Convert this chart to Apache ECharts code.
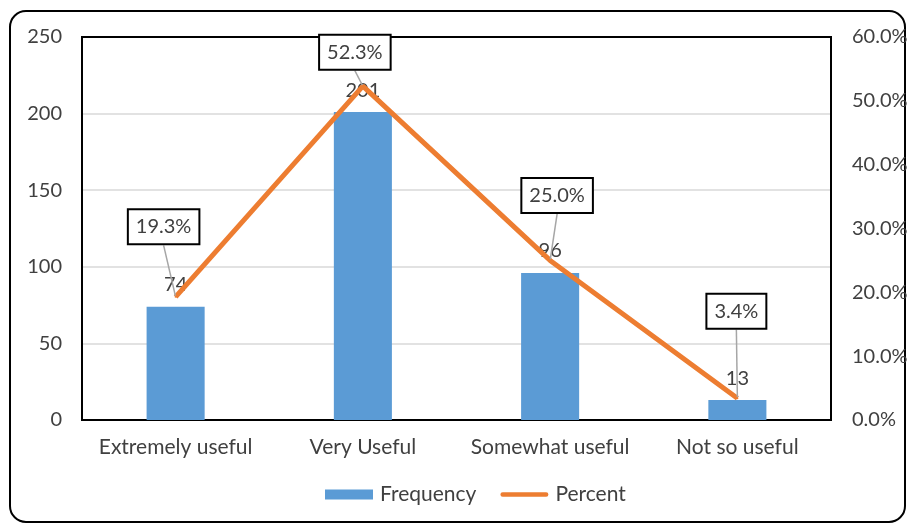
<!DOCTYPE html>
<html>
<head>
<meta charset="utf-8">
<script src="https://cdn.jsdelivr.net/npm/echarts@6/dist/echarts.min.js"></script>
<style>
  html, body { margin: 0; padding: 0; background: #fff; }
  #chart { width: 912px; height: 524px; }
</style>
</head>
<body>
<div id="chart"></div>
<script>
// Usefulness ratings: counts and share of respondents
const categories = ['Extremely useful', 'Very Useful', 'Somewhat useful', 'Not so useful'];
const frequency = [74, 201, 96, 13];
const percent = [19.3, 52.3, 25.0, 3.4];
const leftTicks = { min: 0, max: 250, interval: 50 };
const rightTicks = { min: 0, max: 60, interval: 10 };

// Where each boxed percent label sits relative to its point
const percentLabelShift = [[-12, -70], [-8, -34], [7, -65], [-1, -87]];

const FONT = 'Lato, "Open Sans", sans-serif';
const TEXT = '#404040';
const SIZE = 20;

const chart = echarts.init(document.getElementById('chart'), null, { renderer: 'canvas' });

chart.setOption({
  animation: false,
  backgroundColor: '#fff',
  textStyle: { fontFamily: FONT },
  graphic: [{
    type: 'rect',
    shape: { x: 10, y: 11, width: 895, height: 511, r: 16 },
    style: { fill: 'none', stroke: '#000', lineWidth: 2 },
    z: 0
  }],
  grid: {
    left: 82, right: 81, top: 37, bottom: 104,
    show: true, borderColor: '#000', borderWidth: 2, backgroundColor: 'transparent'
  },
  legend: {
    bottom: 14,
    left: 320,
    itemGap: 24,
    itemWidth: 48,
    itemHeight: 10,
    textStyle: { fontFamily: FONT, fontSize: 21, color: TEXT, padding: [0, 0, 0, 2] },
    data: [
      { name: 'Frequency', icon: 'rect' },
      { name: 'Percent', icon: 'path://M2.5,0 L50.5,0 A2.5,2.5 0 0 1 50.5,5 L2.5,5 A2.5,2.5 0 0 1 2.5,0 Z' }
    ]
  },
  xAxis: [{
    type: 'category',
    data: categories,
    axisLine: { lineStyle: { color: '#000', width: 2 } },
    axisTick: { show: false },
    axisLabel: { interval: 0, fontFamily: FONT, fontSize: 21, color: TEXT, margin: 17 }
  }, {
    type: 'category',
    position: 'top',
    data: categories,
    axisLine: { lineStyle: { color: '#000', width: 2 } },
    axisTick: { show: false },
    axisLabel: { show: false }
  }],
  yAxis: [{
    type: 'value',
    min: leftTicks.min, max: leftTicks.max, interval: leftTicks.interval,
    axisLine: { show: true, lineStyle: { color: '#000', width: 2 } },
    axisTick: { show: false },
    splitLine: { showMaxLine: false, lineStyle: { color: '#d9d9d9', width: 1.5 } },
    axisLabel: { fontFamily: FONT, fontSize: SIZE, color: TEXT, margin: 20 }
  }, {
    type: 'value',
    min: rightTicks.min, max: rightTicks.max, interval: rightTicks.interval,
    axisLine: { show: true, lineStyle: { color: '#000', width: 2 } },
    axisTick: { show: false },
    splitLine: { show: false },
    axisLabel: {
      fontFamily: FONT, fontSize: SIZE, color: TEXT, margin: 21,
      formatter: v => v.toFixed(1) + '%'
    }
  }],
  series: [{
    name: 'Frequency',
    type: 'bar',
    data: frequency,
    barWidth: '31%',
    itemStyle: { color: '#5B9BD5' },
    label: {
      show: true, position: 'top', distance: 12,
      fontFamily: FONT, fontSize: SIZE, color: TEXT
    },
    z: 2
  }, {
    name: 'Percent',
    type: 'line',
    yAxisIndex: 1,
    data: percent,
    symbol: 'circle',
    symbolSize: 2,
    itemStyle: { color: '#ED7D31' },
    lineStyle: { color: '#ED7D31', width: 5 },
    label: {
      show: true,
      position: 'inside',
      formatter: p => p.value.toFixed(1) + '%',
      fontFamily: FONT, fontSize: SIZE, color: TEXT,
      backgroundColor: '#fff',
      borderColor: '#000',
      borderWidth: 2,
      padding: [7, 7, 6, 7]
    },
    labelLine: { show: true, lineStyle: { color: '#a6a6a6', width: 1.5 } },
    labelLayout: p => ({
      dx: percentLabelShift[p.dataIndex][0],
      dy: percentLabelShift[p.dataIndex][1]
    }),
    z: 5
  }]
});
</script>
</body>
</html>
